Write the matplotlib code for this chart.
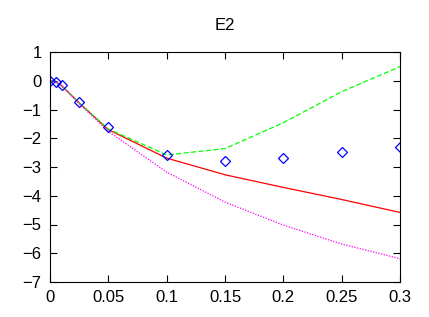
import matplotlib
matplotlib.use("Agg")
import matplotlib.pyplot as plt

plt.rcParams['font.family'] = ['Liberation Sans', 'DejaVu Sans']

x = [0, 0.005, 0.01, 0.025, 0.05, 0.1, 0.15, 0.2, 0.25, 0.3]
data_pts = [0.0, -0.03, -0.16, -0.75, -1.61, -2.57, -2.79, -2.69, -2.48, -2.29]
red_line = [0.0, -0.04, -0.17, -0.77, -1.70, -2.69, -3.27, -3.71, -4.13, -4.58]
green_line = [0.0, -0.04, -0.17, -0.77, -1.68, -2.58, -2.36, -1.46, -0.38, 0.49]
magenta_line = [0.0, -0.04, -0.18, -0.80, -1.76, -3.18, -4.22, -5.02, -5.68, -6.19]

xticks = [0, 0.05, 0.1, 0.15, 0.2, 0.25, 0.3]
xticklabels = ["0", "0.05", "0.1", "0.15", "0.2", "0.25", "0.3"]
yticks = [1, 0, -1, -2, -3, -4, -5, -6, -7]

fig = plt.figure(figsize=(4.29, 3.17), dpi=100)
ax = fig.add_axes([50/429, 1-282/317, 350/429, 230/317])

ax.plot(x, red_line, color='#ff0000', lw=0.9)
ax.plot(x, green_line, color='#00ff00', lw=0.9, dashes=(4, 2))
ax.plot(x, magenta_line, color='#ff00ff', lw=0.9, dashes=(1, 1.2))
ax.plot(x, data_pts, linestyle='none', marker='D', markersize=5,
        markerfacecolor='none', markeredgecolor='#0000ff', markeredgewidth=0.9)

ax.set_xlim(0, 0.3)
ax.set_ylim(-7, 1)
ax.set_xticks(xticks)
ax.set_xticklabels(xticklabels)
ax.set_yticks(yticks)
ax.tick_params(direction='in', top=True, right=True, length=5, width=0.8,
               labelsize=12, pad=6)
for s in ax.spines.values():
    s.set_linewidth(0.8)

fig.text(0.5 * (50 + 400) / 429, 1 - 26/317, "E2", ha='center', va='center', fontsize=12)

fig.savefig("out.png", dpi=100)
